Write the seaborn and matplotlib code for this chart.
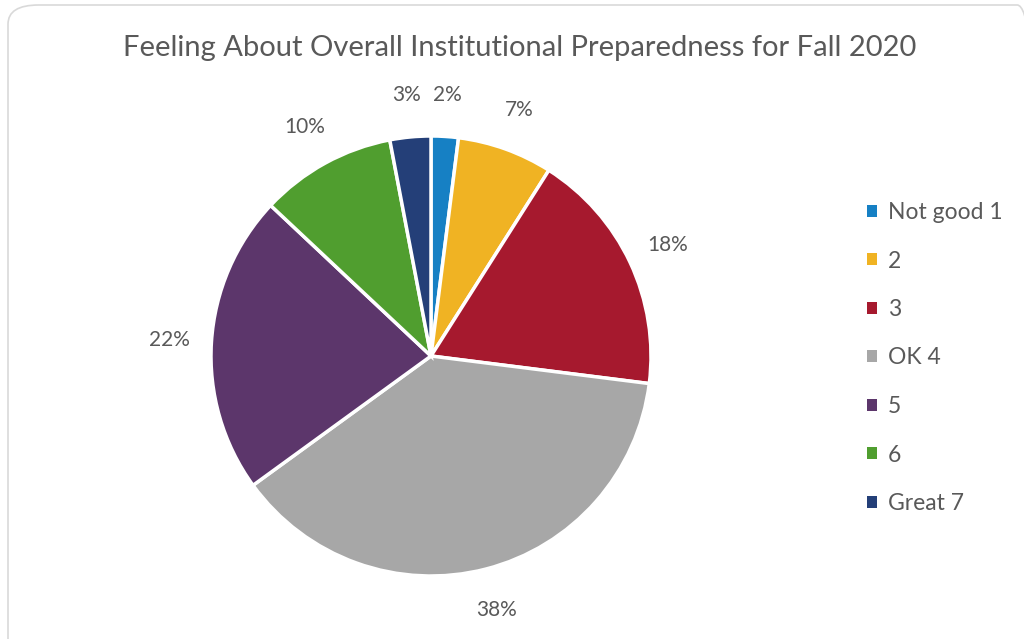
import matplotlib
matplotlib.use("Agg")
import matplotlib.pyplot as plt
from matplotlib.patches import FancyBboxPatch, Patch
import seaborn as sns

categories = ["Not good 1", "2", "3", "OK 4", "5", "6", "Great 7"]
values = [2, 7, 18, 38, 22, 10, 3]
colors = ["#1680C4", "#F0B323", "#A6192E", "#A7A7A7", "#5C366B", "#509E2F", "#243F78"]
title = "Feeling About Overall Institutional Preparedness for Fall 2020"

sns.set_theme(style="white")
plt.rcParams['font.family'] = ['Lato', 'DejaVu Sans']
palette = sns.color_palette(colors)
text_color = "#595959"

fig = plt.figure(figsize=(10.24, 6.39), dpi=100)
fig.patch.set_facecolor("white")

# rounded border
border = FancyBboxPatch((8 / 1024, -20 / 639), 1040 / 1024, 654 / 639,
                        boxstyle="round,pad=0,rounding_size=0.03",
                        transform=fig.transFigure, facecolor="none",
                        edgecolor="#D9D9D9", linewidth=1.2, zorder=-1)
fig.patches.append(border)

cx, cy, r = 431, 356, 220
ax = fig.add_axes([(cx - r) / 1024, (639 - cy - r) / 639, 2 * r / 1024, 2 * r / 639])
ax.set_facecolor("none")
wedges, texts, autotexts = ax.pie(
    values, colors=palette, startangle=90, counterclock=False,
    autopct=lambda p: f"{p:.0f}%", pctdistance=1.19,
    wedgeprops=dict(edgecolor="white", linewidth=2.5),
    textprops=dict(color=text_color, fontsize=15),
)
ax.set_xlim(-1, 1)
ax.set_ylim(-1, 1)
ax.set_aspect("equal")
ax.axis("off")

fig.text(520 / 1024, 1 - 48 / 639, title, ha="center", va="center",
         fontsize=21, color=text_color)

handles = [Patch(facecolor=c, edgecolor="none") for c in palette]
leg = fig.legend(handles, categories, loc="upper left",
                 bbox_to_anchor=(867 / 1024, 1 - 202 / 639),
                 frameon=False, fontsize=16.5, labelcolor=text_color,
                 handlelength=0.45, handleheight=0.45, handletextpad=0.45,
                 labelspacing=1.2, borderaxespad=0, borderpad=0)

fig.savefig("out.png", dpi=100)
